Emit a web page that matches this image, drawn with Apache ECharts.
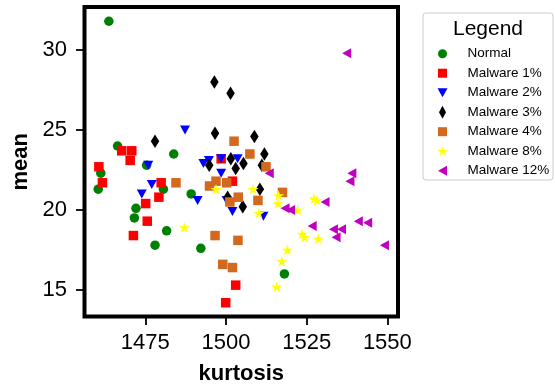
<!DOCTYPE html>
<html><head><meta charset="utf-8">
<script src="https://cdn.jsdelivr.net/npm/echarts@6/dist/echarts.min.js"></script>
<style>html,body{margin:0;padding:0;background:#fff}#c{width:555px;height:392px}</style>
</head><body><div id="c"></div>
<script>
// ---- data ----
const seriesNames = ['Normal', 'Malware 1%', 'Malware 2%', 'Malware 3%', 'Malware 4%', 'Malware 8%', 'Malware 12%'];
const xTicks = [1475, 1500, 1525, 1550];
const yTicks = [15, 20, 25, 30];

const normalX = [1463.7, 1466.4, 1483.8, 1461.2, 1460.4, 1475.4, 1480.6, 1472.1, 1471.6, 1481.6, 1478.0, 1492.2, 1489.2, 1518.1];
const normalY = [31.8, 24.0, 23.5, 22.3, 21.3, 22.8, 21.3, 20.1, 19.5, 18.7, 17.8, 17.6, 21.0, 16.0];

const m1X = [1467.7, 1470.8, 1470.3, 1460.6, 1461.7, 1479.9, 1479.2, 1475.1, 1475.6, 1471.3, 1498.5, 1502.0, 1503.0, 1499.9];
const m1Y = [23.7, 23.7, 23.1, 22.7, 21.7, 21.7, 20.8, 20.4, 19.3, 18.4, 23.2, 21.8, 15.3, 14.2];

const m2X = [1487.3, 1475.9, 1493.0, 1494.7, 1498.5, 1503.6, 1498.5, 1477.0, 1473.9, 1491.2, 1500.2, 1502.0, 1511.6];
const m2Y = [25.0, 22.8, 22.9, 23.1, 23.2, 23.2, 22.3, 21.6, 21.0, 20.6, 20.6, 19.9, 19.6];

const m3X = [1478.0, 1496.4, 1501.4, 1496.6, 1508.8, 1511.9, 1494.8, 1501.5, 1503.0, 1505.4, 1511.1, 1510.5, 1500.5, 1505.2];
const m3Y = [24.3, 28.0, 27.3, 24.8, 24.6, 23.5, 22.8, 23.2, 22.6, 22.9, 22.8, 21.3, 20.8, 20.2];

const m4X = [1502.5, 1507.4, 1512.4, 1484.5, 1494.9, 1496.9, 1500.2, 1503.8, 1501.2, 1509.9, 1517.5, 1496.6, 1503.7, 1499.0, 1502.0];
const m4Y = [24.3, 23.5, 22.7, 21.7, 21.5, 21.8, 21.7, 20.8, 20.5, 20.6, 21.1, 18.4, 18.1, 16.6, 16.4];

const m8X = [1496.9, 1487.1, 1508.4, 1516.3, 1516.1, 1510.2, 1522.2, 1527.3, 1528.2, 1523.6, 1524.3, 1528.6, 1519.0, 1517.3, 1515.7];
const m8Y = [21.3, 18.9, 21.3, 20.9, 20.4, 19.8, 20.0, 20.7, 20.6, 18.5, 18.3, 18.2, 17.5, 16.8, 15.2];

const m12X = [1537.4, 1513.4, 1539.0, 1538.4, 1530.7, 1518.3, 1520.0, 1526.7, 1533.3, 1535.8, 1534.1, 1541.0, 1543.9, 1549.1];
const m12Y = [29.8, 22.3, 22.3, 21.8, 20.5, 20.1, 20.0, 19.0, 18.8, 18.8, 18.3, 19.3, 19.2, 17.8];

// ---- styling ----
function starPath(scale, dx, dy) {
  const pts = [];
  for (let i = 0; i < 10; i++) {
    const r = (i % 2 === 0) ? 1 : 0.381966;
    const a = Math.PI / 2 - i * Math.PI / 5;
    pts.push([(r * Math.cos(a)) * scale + dx, (-r * Math.sin(a)) * scale + dy]);
  }
  return pts.map((p, i) => (i ? 'L' : 'M') + p[0].toFixed(2) + ',' + p[1].toFixed(2)).join('') + 'Z';
}
const STAR = 'path://' + starPath(50, 50, 50);
const symbols = ['circle', 'rect', 'path://M0,0L10,0L5,9Z', 'path://M3,0L6,5L3,10L0,5Z', 'rect', STAR, 'path://M9,0L9,10L0,5Z'];
const sizes = [9.5, 9.5, [10, 9], [8.5, 13.5], 9.5, [11, 10.5], [9, 10]];
const colors = ['#008000', '#ff0000', '#0000ff', '#000000', '#d2691e', '#ffff00', '#bf00bf'];
const legendIcons = [
  'path://M4.5,0M4.5,13M0,6.5A4.5,4.5,0,1,1,9,6.5A4.5,4.5,0,1,1,0,6.5Z',
  'path://M4.5,0M4.5,13M0,2L9,2L9,11L0,11Z',
  'path://M5,0M5,13M0,2L10,2L5,11Z',
  'path://M3.5,0L7,6.5L3.5,13L0,6.5Z',
  'path://M4.5,0M4.5,13M0,2L9,2L9,11L0,11Z',
  'path://M5,0M5,13' + starPath(5.2, 5, 6.9),
  'path://M4.5,0M4.5,13M9,1.5L9,11.5L0,6.5Z'
];

const xs = [normalX, m1X, m2X, m3X, m4X, m8X, m12X];
const ys = [normalY, m1Y, m2Y, m3Y, m4Y, m8Y, m12Y];

const FONT = '"Liberation Sans", Arial, sans-serif';

const chart = echarts.init(document.getElementById('c'), null, { renderer: 'canvas' });
chart.setOption({
  animation: false,
  backgroundColor: '#ffffff',
  grid: { left: 84.5, top: 7, width: 313.5, height: 309.5, show: true, borderWidth: 4, borderColor: '#000', backgroundColor: 'transparent', containLabel: false, outerBoundsMode: 'none' },
  xAxis: {
    type: 'value', min: 1456.15, max: 1553.3,
    axisLine: { show: false, onZero: false },
    axisTick: { show: true, customValues: xTicks, length: 8.5, lineStyle: { color: '#000', width: 1.8 } },
    axisLabel: { customValues: xTicks, fontSize: 22, color: '#000', margin: 15.5, fontFamily: FONT, formatter: v => String(v) },
    splitLine: { show: false },
    name: 'kurtosis', nameLocation: 'middle', nameGap: 46,
    nameTextStyle: { fontSize: 22, fontWeight: 'bold', color: '#000', fontFamily: FONT }
  },
  yAxis: {
    type: 'value', min: 13.34, max: 32.69,
    axisLine: { show: false, onZero: false },
    axisTick: { show: true, customValues: yTicks, length: 8.5, lineStyle: { color: '#000', width: 1.8 } },
    axisLabel: { customValues: yTicks, fontSize: 22, color: '#000', margin: 17.5, fontFamily: FONT, formatter: v => String(v) },
    splitLine: { show: false },
    name: 'mean', nameLocation: 'middle', nameGap: 53,
    nameTextStyle: { fontSize: 22, fontWeight: 'bold', color: '#000', fontFamily: FONT }
  },
  legend: {
    orient: 'vertical', left: 432.5, top: 41.7,
    itemWidth: 40, itemHeight: 13, itemGap: 5.5,
    selectedMode: false,
    textStyle: { fontSize: 13.5, color: '#000', fontFamily: FONT },
    data: seriesNames.map((n, i) => ({ name: n, icon: legendIcons[i] }))
  },
  graphic: [
    { type: 'rect', shape: { x: 423, y: 13, width: 130, height: 167, r: 3 }, style: { fill: 'rgba(255,255,255,0.8)', stroke: '#cccccc', lineWidth: 1 }, z: -1 },
    { type: 'text', x: 488, y: 29, style: { text: 'Legend', fontSize: 21, fontFamily: FONT, fill: '#000', align: 'center', verticalAlign: 'middle' } }
  ],
  series: seriesNames.map((n, i) => ({
    name: n, type: 'scatter',
    symbol: symbols[i], symbolSize: sizes[i],
    itemStyle: { color: colors[i], opacity: 1 },
    emphasis: { disabled: true },
    data: xs[i].map((x, j) => [x, ys[i][j]])
  }))
});
</script>
</body></html>
